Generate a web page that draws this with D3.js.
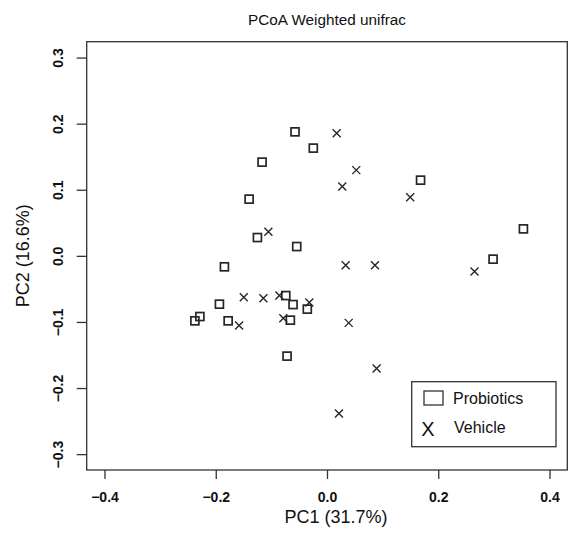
<!DOCTYPE html>
<html><head><meta charset="utf-8">
<script src="https://cdn.jsdelivr.net/npm/d3@7"></script>
<style>body{margin:0;background:#fff}svg{display:block}text{font-family:"Liberation Sans",Arial,sans-serif;fill:#111}</style>
</head><body><svg id="c" width="570" height="533"></svg>
<script>
const probioticsX = [-0.0575,-0.0246,-0.1167,-0.140,-0.1251,-0.0544,-0.1844,0.1682,0.3531,0.2986,-0.0741,-0.061,-0.0354,-0.1934,-0.2285,-0.2375,-0.1777,-0.0659,-0.0718];
const probioticsY = [0.1876,0.163,0.1418,0.0858,0.0277,0.0141,-0.0166,0.1145,0.0408,-0.005,-0.0601,-0.0737,-0.0806,-0.0731,-0.0918,-0.0983,-0.0983,-0.0973,-0.1517];
const vehicleX = [0.0174,0.0526,0.0275,-0.1054,0.0336,0.0862,0.1496,0.2652,-0.1496,-0.1144,-0.0856,-0.0318,-0.158,-0.0785,0.039,0.0892,0.0215];
const vehicleY = [0.1856,0.1297,0.1048,0.0363,-0.0141,-0.0141,0.0888,-0.0238,-0.0625,-0.064,-0.0601,-0.0707,-0.1054,-0.0943,-0.1014,-0.1705,-0.2386];
const xTicks = [-0.4,-0.2,0.0,0.2,0.4];
const yTicks = [-0.3,-0.2,-0.1,0.0,0.1,0.2,0.3];
const seriesNames = ["Probiotics","Vehicle"];
const title = "PCoA Weighted unifrac", xTitle = "PC1 (31.7%)", yTitle = "PC2 (16.6%)";

const L=86.7,R=567.3,T=41.7,B=470;
const svg=d3.select("#c");
const x=d3.scaleLinear().domain([-0.432,0.432]).range([L,R]);
const y=d3.scaleLinear().domain([-0.324,0.324]).range([B,T]);
const ink="#262626";

svg.append("rect").attr("x",L).attr("y",T).attr("width",R-L).attr("height",B-T)
  .attr("fill","none").attr("stroke","#333").attr("stroke-width",1.3);

const fmt=d3.format(".1f");
const xa=svg.append("g").attr("transform",`translate(0,${B})`)
  .call(d3.axisBottom(x).tickValues(xTicks).tickFormat(fmt).tickSize(9).tickPadding(13));
xa.select(".domain").remove();
xa.selectAll("line").attr("stroke","#333").attr("stroke-width",1.3);
xa.selectAll("text").attr("font-size",14).attr("font-weight","bold").attr("fill","#111")
  .attr("font-family","Liberation Sans, Arial, sans-serif").attr("dy","0.71em");

const ya=svg.append("g").attr("transform",`translate(${L},0)`)
  .call(d3.axisLeft(y).tickValues(yTicks).tickFormat(fmt).tickSize(10).tickPadding(0));
ya.select(".domain").remove();
ya.selectAll("line").attr("stroke","#333").attr("stroke-width",1.3);
ya.selectAll("text").remove();
ya.selectAll(".tick").append("text")
  .attr("transform","translate(-24,0) rotate(-90)")
  .attr("text-anchor","middle").attr("font-size",14).attr("font-weight","bold").attr("fill","#111")
  .attr("font-family","Liberation Sans, Arial, sans-serif")
  .text(d=>fmt(d));

svg.append("text").attr("x",(L+R)/2).attr("y",25).attr("text-anchor","middle").attr("font-size",15.3).text(title);
svg.append("text").attr("x",336).attr("y",523).attr("text-anchor","middle").attr("font-size",18).text(xTitle);
svg.append("text").attr("transform",`translate(28.5,${(T+B)/2}) rotate(-90)`).attr("text-anchor","middle").attr("font-size",18).text(yTitle);

const pts=svg.append("g");
const S=8;
pts.selectAll("rect.p").data(d3.range(probioticsX.length)).join("rect")
  .attr("x",i=>x(probioticsX[i])-S/2).attr("y",i=>y(probioticsY[i])-S/2)
  .attr("width",S).attr("height",S).attr("fill","none").attr("stroke",ink).attr("stroke-width",1.7);
const C=4;
pts.selectAll("path.v").data(d3.range(vehicleX.length)).join("path")
  .attr("d",i=>{const cx=x(vehicleX[i]),cy=y(vehicleY[i]);return `M${cx-C},${cy-C}L${cx+C},${cy+C}M${cx-C},${cy+C}L${cx+C},${cy-C}`;})
  .attr("stroke",ink).attr("stroke-width",1.4).attr("fill","none");

// legend
const lg=svg.append("g");
lg.append("rect").attr("x",411.7).attr("y",381.7).attr("width",144.3).attr("height",65)
  .attr("fill","#fff").attr("stroke","#333").attr("stroke-width",1.3);
lg.append("rect").attr("x",424).attr("y",391).attr("width",19).attr("height",14)
  .attr("fill","none").attr("stroke","#333").attr("stroke-width",1.3);
lg.append("text").attr("x",428).attr("y",435.5).attr("text-anchor","middle").attr("font-size",20).text("X");
lg.append("text").attr("x",453).attr("y",403.5).attr("font-size",16).text(seriesNames[0]);
lg.append("text").attr("x",454).attr("y",432.5).attr("font-size",16).text(seriesNames[1]);
</script></body></html>
